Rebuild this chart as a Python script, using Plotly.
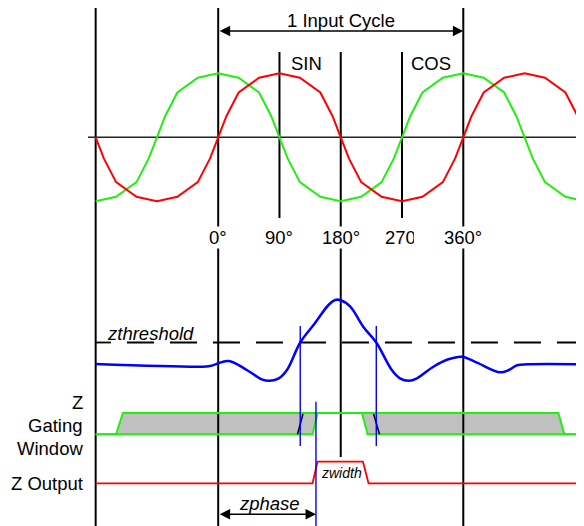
import plotly.graph_objects as go

# ---------------- data (x in electrical degrees) ----------------
sin_deg = [-180, -168, -150, -120, -90, -60, -30, -12, 0, 12, 30, 60, 90, 120, 150, 168, 180,
           192, 210, 240, 270, 300, 330, 348, 360, 372, 390, 420, 450, 480, 510, 528, 540]
sin_val = [0, -0.33, -0.70, -0.93, -1, -0.93, -0.70, -0.33, 0, 0.33, 0.70, 0.93, 1, 0.93, 0.70, 0.33, 0,
           -0.33, -0.70, -0.93, -1, -0.93, -0.70, -0.33, 0, 0.33, 0.70, 0.93, 1, 0.93, 0.70, 0.33, 0]
cos_deg = [-180, -150, -120, -102, -90, -78, -60, -30, 0, 30, 60, 78, 90, 102, 120, 150, 180,
           210, 240, 258, 270, 282, 300, 330, 360, 390, 420, 438, 450, 462, 480, 510, 540]
cos_val = [-1, -0.93, -0.70, -0.33, 0, 0.33, 0.70, 0.93, 1, 0.93, 0.70, 0.33, 0, -0.33, -0.70, -0.93, -1,
           -0.93, -0.70, -0.33, 0, 0.33, 0.70, 0.93, 1, 0.93, 0.70, 0.33, 0, -0.33, -0.70, -0.93, -1]

z_deg = [-180, -26, -12, 15, 42, 64, 76, 89, 101, 120.5, 142, 162, 172, 179, 194, 213, 232.2,
         255, 267, 280, 292, 316, 338, 358, 380, 414, 427, 439, 454, 538]
z_val = [0, -2.7, -2, 3, -6, -15.3, -16.7, -14.3, -6, 21.5, 40.7, 59, 64, 64, 57.3, 37.3, 21.5,
         -6, -14.3, -16.7, -14.3, -2.7, 4.7, 7.3, 1.3, -8.3, -6, -1.3, -0.3, -0.3]
z_threshold = 21.5

win1_deg = [-150, -140, 146, 138.6]
win1_lvl = [0, 1, 1, 0]
win2_deg = [211.2, 499.6, 508.4, 219.4]
win2_lvl = [1, 1, 0, 0]
gate_top_deg = [-180, -150, -140, 499.6, 508.4, 540]
gate_top_lvl = [0, 0, 1, 1, 0, 0]
gate_left_deg = [-180, 138.6, 146]
gate_left_lvl = [0, 0, 1]
gate_right_deg = [211.2, 219.4, 540]
gate_right_lvl = [1, 0, 0]
edge1_deg = [116.5, 124.5]
edge1_lvl = [0, 0.95]
edge2_deg = [228.2, 237]
edge2_lvl = [0.95, 0]

out_deg = [-180, 138.6, 145.9, 212.6, 220.8, 540]
out_lvl = [0, 0, 1, 1, 0, 0]

cross_deg = [120.5, 232.2]      # zthreshold crossings
zout_deg = 143.6                # Z output edge (zphase)

tick_deg = [0, 90, 180, 270, 360]
tick_lbl = ["0°", "90°", "180°", "270°", "360°"]

# ---------------- layout constants ----------------
# vertical positions are measured in px up from the bottom of the 526 px picture
H = 526
PAGE_OFF = 8          # default page margin of the html body
PX_PER_DEG = 0.6808
X0_PX = 218.2         # pixel position of 0 deg in the picture
SC_BASE, SC_AMP = H - 137.3, 64
Z_BASE = H - 364
G_LO, G_HI = H - 434.3, H - 413
O_LO, O_HI = H - 483.3, H - 461.7
FONT = "Liberation Sans, Arial, sans-serif"
GREEN = "#22ee11"


def px2deg(px):
    return (px - X0_PX) / PX_PER_DEG


fig = go.Figure()


def line(x, y, color, width, dash=None, shape="linear"):
    fig.add_trace(go.Scatter(x=x, y=y, mode="lines", hoverinfo="skip",
                             line=dict(color=color, width=width, dash=dash, shape=shape)))


# gray gating window fills
for dx, lv in ((win1_deg, win1_lvl), (win2_deg, win2_lvl)):
    fig.add_trace(go.Scatter(x=dx, y=[G_LO + v * (G_HI - G_LO) for v in lv], mode="lines",
                             fill="toself", fillcolor="#c0c0c0", line=dict(width=0),
                             hoverinfo="skip"))

# black vertical reference lines
vl = [(-180, H - 8, -10), (0, H - 8, -10), (90, H - 52, H - 218), (180, H - 52, H - 457),
      (270, H - 52, H - 218), (360, H - 8, -10)]
for xd, y0, y1 in vl:
    line([xd, xd], [y0, y1], "black", 2)

# zero axis
line([px2deg(88), 545], [SC_BASE, SC_BASE], "#222222", 1.6)

# sin / cos
line(cos_deg, [SC_BASE + SC_AMP * v for v in cos_val], GREEN, 2)
line(sin_deg, [SC_BASE + SC_AMP * v for v in sin_val], "#ff0000", 2)

# threshold line
thr = Z_BASE + z_threshold
line([-180.5, -157.5], [thr, thr], "black", 1.8)
line([-134, 545], [thr, thr], "black", 1.8, dash="27px,16px")

# Z signal
line(z_deg, [Z_BASE + v for v in z_val], "#0000ff", 2.5, shape="spline")

# gating window outlines
for dx, lv in ((gate_top_deg, gate_top_lvl), (gate_left_deg, gate_left_lvl),
               (gate_right_deg, gate_right_lvl)):
    line(dx, [G_LO + v * (G_HI - G_LO) for v in lv], GREEN, 2)
for dx, lv in ((edge1_deg, edge1_lvl), (edge2_deg, edge2_lvl)):
    line(dx, [G_LO + v * (G_HI - G_LO) for v in lv], "black", 1.5)

# Z output
line(out_deg, [O_LO + v * (O_HI - O_LO) for v in out_lvl], "#ff0000", 1.8)

# blue crossing markers
for xd in cross_deg:
    line([xd, xd], [H - 326, H - 446], "#0000ff", 1.4)
line([zout_deg, zout_deg], [H - 401.7, -10], "#0000ff", 1.4)

ann = []


def text(x, y, t, size=18.5, italic=False, xanchor="center", bg=None, **kw):
    ann.append(dict(x=x, y=y, xref="x", yref="y", text=(f"<i>{t}</i>" if italic else t),
                    showarrow=False, xanchor=xanchor, yanchor="middle",
                    font=dict(family=FONT, size=size, color="black"),
                    bgcolor=bg, borderpad=0, **kw))


def arrow(x0, x1, y):
    ann.append(dict(x=x1, y=y, ax=x0, ay=y, xref="x", yref="y", axref="x", ayref="y",
                    text="", showarrow=True, arrowhead=2, arrowside="end+start",
                    arrowsize=1.3, arrowwidth=1.6, arrowcolor="black",
                    standoff=0, startstandoff=0))


arrow(0, 360, H - 31)
text(180, H - 20, "1 Input Cycle")
text(px2deg(306.7), H - 63, "SIN")
text(px2deg(431), H - 63, "COS")
for d, t in zip(tick_deg, tick_lbl):
    if t.startswith("270"):
        text(px2deg(384), H - 237, t, xanchor="left", bg="white", width=29, align="left")
    else:
        text(d, H - 237, t, bg="white")

text(px2deg(150), H - 333, "zthreshold", italic=True)
text(px2deg(341.7), H - 473.3, "zwidth", size=14, italic=True)
text(px2deg(269.3), H - 503.3, "zphase", italic=True)
arrow(0, zout_deg, H - 514.3)

for t, y in (("Z", 402), ("Gating", 425), ("Window", 448), ("Z Output", 483)):
    text(px2deg(84), H - y, t, xanchor="right")

fig.update_layout(
    width=584, height=526, margin=dict(l=0, r=0, t=0, b=0),
    paper_bgcolor="white", plot_bgcolor="white", showlegend=False,
    xaxis=dict(range=[px2deg(PAGE_OFF), px2deg(584 + PAGE_OFF)], visible=False, fixedrange=True),
    yaxis=dict(range=[-PAGE_OFF, H - PAGE_OFF], visible=False, fixedrange=True),
    annotations=ann,
)
fig.write_html("out.html")
